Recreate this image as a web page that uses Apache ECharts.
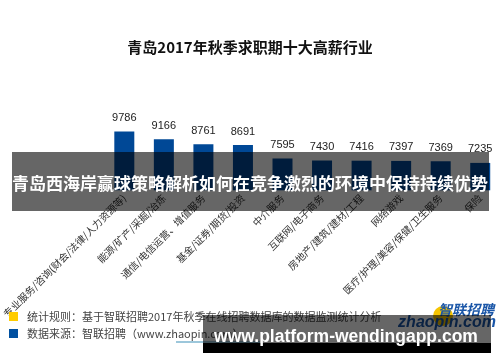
<!DOCTYPE html>
<html>
<head>
<meta charset="utf-8">
<script src="https://cdn.jsdelivr.net/npm/echarts@6/dist/echarts.min.js"></script>
<style>
html,body{margin:0;padding:0;background:#fff;}
#c{width:500px;height:362px;}
</style>
</head>
<body>
<div id="c"></div>
<script>
const chartTitle = '青岛2017年秋季求职期十大高薪行业';
const categories = [
  '专业服务/咨询(财会/法律/人力资源等)',
  '能源/矿产/采掘/冶炼',
  '通信/电信运营、增值服务',
  '基金/证券/期货/投资',
  '中介服务',
  '互联网/电子商务',
  '房地产/建筑/建材/工程',
  '网络游戏',
  '医疗/护理/美容/保健/卫生服务',
  '保险'
];
const salaries = [9786, 9166, 8761, 8691, 7595, 7430, 7416, 7397, 7369, 7235];
const noteRule = '统计规则：基于智联招聘2017年秋季在线招聘数据库的数据监测统计分析';
const noteSource = '数据来源：智联招聘（www.zhaopin.com）';
const bannerText = '青岛西海岸赢球策略解析如何在竞争激烈的环境中保持持续优势';
const footerText = 'www.platform-wendingapp.com';

const CJK = '"Noto Sans CJK SC", "Microsoft YaHei", sans-serif';
const chart = echarts.init(document.getElementById('c'), null, {renderer: 'canvas'});
chart.setOption({
  backgroundColor: '#ffffff',
  animation: false,
  title: {
    text: chartTitle,
    left: 'center',
    top: 35,
    textStyle: {fontFamily: CJK, fontSize: 15, fontWeight: 'bold', color: '#111'}
  },
  grid: {left: 97.7, width: 405.6, top: 129, height: 61.3, containLabel: false},
  xAxis: {
    type: 'category',
    data: categories,
    axisLine: {show: false},
    axisTick: {show: false},
    axisLabel: {
      interval: 0,
      rotate: 45,
      margin: 6,
      fontFamily: CJK,
      fontSize: 10,
      color: '#333'
    }
  },
  yAxis: {
    type: 'value',
    min: 5000,
    max: 10000,
    show: false,
    splitLine: {show: false}
  },
  series: [{
    type: 'bar',
    data: salaries,
    barWidth: 20,
    itemStyle: {color: '#004896'},
    label: {
      show: true,
      position: 'top',
      distance: 8,
      fontFamily: '"Liberation Sans", Arial, sans-serif',
      fontSize: 11,
      color: '#222'
    }
  }],
  graphic: [
    // legend notes
    {type: 'rect', shape: {x: 9, y: 312, width: 9, height: 9}, style: {fill: '#FFCC00'}, z: 10},
    {type: 'text', x: 27, y: 316.5, style: {text: noteRule, font: '11px ' + CJK, fill: '#444', textVerticalAlign: 'middle'}, z: 10},
    {type: 'rect', shape: {x: 9, y: 329, width: 9, height: 9}, style: {fill: '#0050A0'}, z: 10},
    {type: 'text', x: 27, y: 333.5, style: {text: noteSource, font: '11px ' + CJK, fill: '#444', textVerticalAlign: 'middle'}, z: 10},
    {type: 'line', shape: {x1: 176, y1: 342, x2: 260, y2: 342}, style: {stroke: '#3a8fb7', lineWidth: 1}, z: 10},
    // logo
    {type: 'circle', shape: {cx: 443, cy: 316, r: 10}, style: {fill: '#F5C400'}, z: 10},
    {type: 'text', x: 466, y: 310, style: {text: '智联招聘', font: 'italic bold 14px ' + CJK, fill: '#1a56a8', textAlign: 'center', textVerticalAlign: 'middle'}, z: 11},
    {type: 'text', x: 447, y: 323, style: {text: 'zhaopin.com', font: 'italic bold 16px "Liberation Sans", Arial, sans-serif', fill: '#1a56a8', textAlign: 'center', textVerticalAlign: 'middle'}, z: 11},
    // banner overlay
    {type: 'rect', shape: {x: 12, y: 152, width: 477, height: 59}, style: {fill: 'rgba(0,0,0,0.6)'}, z: 100},
    {type: 'text', x: 250, y: 184, style: {text: bannerText, font: 'bold 17px ' + CJK, fill: '#ffffff', textAlign: 'center', textVerticalAlign: 'middle'}, z: 101},
    // footer overlay
    {type: 'rect', shape: {x: 203, y: 315, width: 288, height: 28}, style: {fill: 'rgba(0,0,0,0.6)'}, z: 100},
    {type: 'rect', shape: {x: 203, y: 343, width: 288, height: 10}, style: {fill: '#000000'}, z: 100},
    {type: 'text', x: 346, y: 337, style: {text: footerText, font: 'bold 17.5px "Liberation Sans", Arial, sans-serif', fill: '#ffffff', textAlign: 'center', textVerticalAlign: 'middle'}, z: 101}
  ]
});
</script>
</body>
</html>
